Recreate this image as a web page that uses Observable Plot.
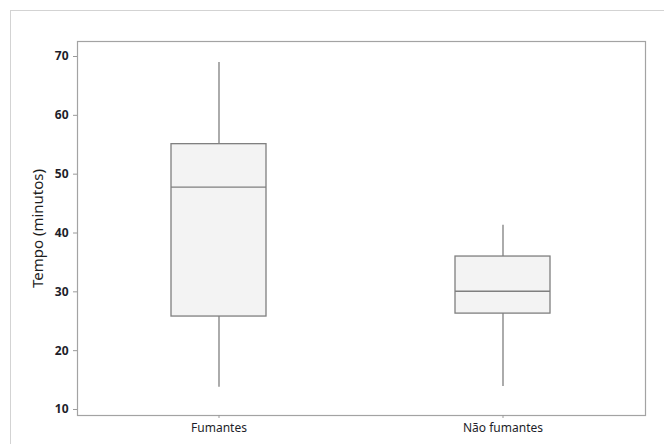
<!DOCTYPE html>
<html>
<head>
<meta charset="utf-8">
<script src="https://cdn.jsdelivr.net/npm/d3@7"></script>
<script src="https://cdn.jsdelivr.net/npm/@observablehq/plot@0.6"></script>
<style>
  html, body { margin: 0; padding: 0; background: #fff; }
  #wrap { position: relative; width: 664px; height: 444px; overflow: hidden; }
  #outer { position: absolute; left: 10px; top: 10px; right: -5px; bottom: -5px;
           border-top: 1px solid #d3d3d3; border-left: 1px solid #d3d3d3; }
  #chart { position: absolute; left: 0; top: 0; }
</style>
</head>
<body>
<div id="wrap"><div id="outer"></div><div id="chart"></div></div>
<script>
const categories = ["Fumantes", "Não fumantes"];
const mins    = [13.8, 13.9];
const q1s     = [25.8, 26.3];
const medians = [47.8, 30.1];
const q3s     = [55.1, 36.0];
const maxs    = [69.0, 41.3];
const yTicks  = [10, 20, 30, 40, 50, 60, 70];
const yTitle  = "Tempo (minutos)";

const data = categories.map((c, i) => ({
  cat: c, min: mins[i], q1: q1s[i], med: medians[i], q3: q3s[i], max: maxs[i]
}));

const boxStroke = "#7f7f7f";
const font = "'Noto Sans', 'DejaVu Sans', sans-serif";

const chart = Plot.plot({
  width: 664,
  height: 444,
  marginLeft: 77,
  marginTop: 41,
  marginRight: 19,
  marginBottom: 29,
  style: { fontFamily: font, background: "transparent", color: "#222" },
  x: { type: "band", domain: categories, paddingInner: 0.665, paddingOuter: 0.33, label: null },
  y: { domain: [8.98, 72.55], label: null },
  marks: [
    Plot.frame({ stroke: "#a3a3a3", strokeWidth: 1.2, fill: "#fff" }),
    Plot.ruleX(data, { x: "cat", y1: "min", y2: "q1", stroke: boxStroke, strokeWidth: 1.3 }),
    Plot.ruleX(data, { x: "cat", y1: "q3", y2: "max", stroke: boxStroke, strokeWidth: 1.3 }),
    Plot.barY(data, { x: "cat", y1: "q1", y2: "q3", fill: "#f3f3f3", stroke: boxStroke, strokeWidth: 1.3 }),
    Plot.tickY(data, { x: "cat", y: "med", stroke: boxStroke, strokeWidth: 1.3 }),
    Plot.axisY({ ticks: yTicks, tickSize: 4, tickPadding: 5, stroke: "#9a9a9a", fill: "#1e1e2a",
                 fontWeight: "bold", fontSize: 12, label: null }),
    Plot.axisX({ tickSize: 3, tickPadding: 5, stroke: "#9a9a9a", fill: "#1e1e2a", fontSize: 12, label: null }),
    Plot.text([yTitle], { frameAnchor: "left", textAnchor: "middle", dx: -39, rotate: -90,
                          fontSize: 15, fill: "#1e1e1e" })
  ]
});
document.getElementById("chart").appendChild(chart);
</script>
</body>
</html>
